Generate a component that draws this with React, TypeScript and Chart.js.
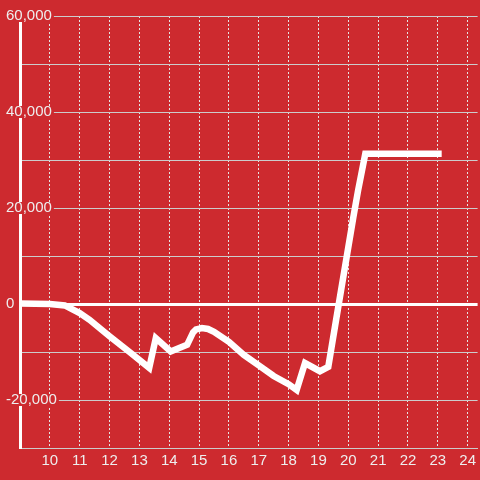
import React, { useEffect, useRef } from "react";
import { Chart, registerables } from "chart.js";

Chart.register(...registerables);

// Hour of day (x) and cumulative value (y)
const hours = [
  9.0, 10.0, 10.5, 11.0, 11.33, 12.0, 12.67, 13.33, 13.55, 14.05, 14.6, 14.8,
  14.9, 15.1, 15.3, 15.5, 16.0, 16.5, 17.0, 17.5, 18.0, 18.27, 18.55, 19.05,
  19.33, 19.6, 20.17, 20.33, 20.57, 23.13,
];
const values = [
  100, 0, -300, -1900, -3300, -6700, -10000, -13300, -7100, -9900, -8500, -5900,
  -5300, -5000, -5200, -5800, -7900, -10600, -12800, -15000, -16700, -17900,
  -12300, -14000, -13100, -3000, 18100, 23700, 31300, 31300,
];
const xTickValues = [10, 11, 12, 13, 14, 15, 16, 17, 18, 19, 20, 21, 22, 23, 24];
const xMin = 9;
const xMax = 24.333;
const yMin = -30000;
const yMax = 60000;
const yStep = 10000;
const yLabelEvery = 20000;

const RED = "#cd2a2f";
const FONT = "'Liberation Sans', Arial, sans-serif";

export default function App() {
  const ref = useRef<HTMLCanvasElement>(null);

  useEffect(() => {
    const chart = new Chart(ref.current as HTMLCanvasElement, {
      type: "line",
      data: {
        datasets: [
          {
            data: hours.map((h, i) => ({ x: h, y: values[i] })),
            borderColor: "#ffffff",
            borderWidth: 6.5,
            pointRadius: 0,
            pointHoverRadius: 0,
            tension: 0,
            fill: false,
            borderJoinStyle: "miter",
          },
        ],
      },
      options: {
        animation: false,
        responsive: false,
        layout: { padding: { top: 16, left: 0, right: 0, bottom: 0 } },
        plugins: { legend: { display: false }, tooltip: { enabled: false } },
        scales: {
          x: {
            type: "linear",
            min: xMin,
            max: xMax,
            afterBuildTicks: (s: any) => {
              s.ticks = xTickValues.map((v) => ({ value: v }));
            },
            afterFit: (s: any) => {
              s.height = 32;
            },
            grid: {
              color: "#e4e4e4",
              lineWidth: 1,
              drawTicks: false,
              borderDash: [2, 2],
            } as any,
            border: { color: "#cccccc", width: 1, dash: [2, 2] },
            ticks: {
              color: "#eeeeee",
              font: { family: FONT, size: 15 },
              padding: 4,
              maxRotation: 0,
              autoSkip: false,
              callback: (v: any) => String(v),
            },
          },
          y: {
            type: "linear",
            min: yMin,
            max: yMax,
            afterFit: (s: any) => {
              s.width = 20;
            },
            ticks: {
              stepSize: yStep,
              mirror: true,
              crossAlign: "near",
              padding: -14,
              callback: (v: any) =>
                Number(v) % yLabelEvery === 0 ? Number(v).toLocaleString("en-US") : "",
              showLabelBackdrop: true,
              backdropColor: RED,
              backdropPadding: { top: 0, bottom: 0, left: 2, right: 2 },
              color: "#eeeeee",
              font: { family: FONT, size: 15, lineHeight: 0.8 },
            },
            grid: {
              color: (ctx: any) => (ctx.tick && ctx.tick.value === 0 ? "#ffffff" : "#cccccc"),
              lineWidth: (ctx: any) => (ctx.tick && ctx.tick.value === 0 ? 3 : 1),
              drawTicks: false,
            },
            border: { color: "#ffffff", width: 3 },
          },
        },
      },
    } as any);
    return () => chart.destroy();
  }, []);

  return (
    <div
      style={{
        position: "absolute",
        left: 0,
        top: 0,
        width: 480,
        height: 480,
        background: RED,
      }}
    >
      <canvas ref={ref} width={480} height={480} style={{ display: "block" }} />
    </div>
  );
}
